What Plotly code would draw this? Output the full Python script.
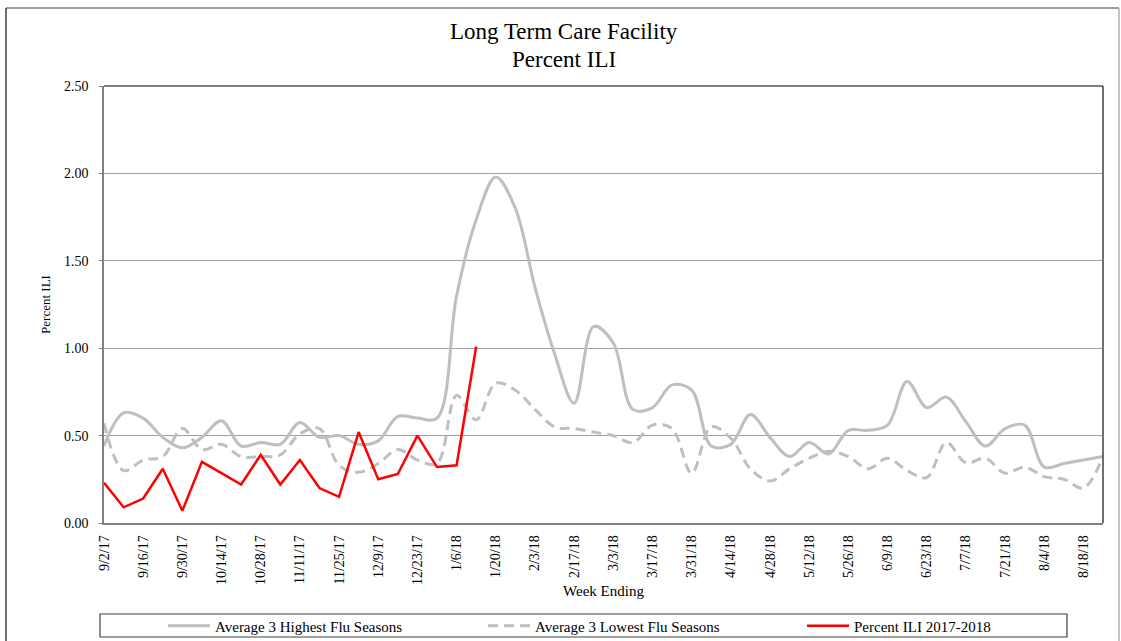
import plotly.graph_objects as go

week_ending = [
    "9/2/17", "9/9/17", "9/16/17", "9/23/17", "9/30/17", "10/7/17", "10/14/17", "10/21/17",
    "10/28/17", "11/4/17", "11/11/17", "11/18/17", "11/25/17", "12/2/17", "12/9/17", "12/16/17",
    "12/23/17", "12/30/17", "1/6/18", "1/13/18", "1/20/18", "1/27/18", "2/3/18", "2/10/18",
    "2/17/18", "2/24/18", "3/3/18", "3/10/18", "3/17/18", "3/24/18", "3/31/18", "4/7/18",
    "4/14/18", "4/21/18", "4/28/18", "5/5/18", "5/12/18", "5/19/18", "5/26/18", "6/2/18",
    "6/9/18", "6/16/18", "6/23/18", "6/30/18", "7/7/18", "7/14/18", "7/21/18", "7/28/18",
    "8/4/18", "8/11/18", "8/18/18", "8/25/18",
]

tick_labels = [
    "9/2/17", "9/16/17", "9/30/17", "10/14/17", "10/28/17", "11/11/17", "11/25/17", "12/9/17",
    "12/23/17", "1/6/18", "1/20/18", "2/3/18", "2/17/18", "3/3/18", "3/17/18", "3/31/18",
    "4/14/18", "4/28/18", "5/12/18", "5/26/18", "6/9/18", "6/23/18", "7/7/18", "7/21/18",
    "8/4/18", "8/18/18",
]

avg_highest = [
    0.44, 0.63, 0.60, 0.49, 0.43, 0.49, 0.585, 0.44, 0.46, 0.45, 0.575, 0.49, 0.50,
    0.45, 0.47, 0.61, 0.60, 0.60, 1.30, 1.735, 1.98, 1.80, 1.35, 0.97, 0.685, 1.125,
    1.03, 0.65, 0.66, 0.79, 0.76, 0.44, 0.45, 0.62, 0.49, 0.38, 0.46, 0.395, 0.53,
    0.53, 0.56, 0.81, 0.66, 0.72, 0.58, 0.44, 0.54, 0.56, 0.32, 0.34, 0.36, 0.38,
]

avg_lowest = [
    0.57, 0.30, 0.36, 0.38, 0.54, 0.42, 0.45, 0.38, 0.38, 0.39, 0.51, 0.54, 0.33,
    0.29, 0.34, 0.42, 0.36, 0.34, 0.73, 0.59, 0.80, 0.76, 0.65, 0.55, 0.54, 0.52,
    0.50, 0.46, 0.56, 0.54, 0.285, 0.55, 0.485, 0.31, 0.24, 0.31, 0.37, 0.41, 0.38,
    0.31, 0.37, 0.30, 0.26, 0.46, 0.345, 0.37, 0.285, 0.32, 0.265, 0.25, 0.20, 0.38,
]

pct_ili_2017_2018 = [
    0.23, 0.09, 0.14, 0.31, 0.07, 0.35, 0.285, 0.22, 0.39, 0.22, 0.36, 0.20, 0.15,
    0.52, 0.25, 0.28, 0.50, 0.32, 0.33, 1.01,
]

title_lines = ["Long Term Care Facility", "Percent ILI"]

W, H = 1121, 641
ML, MR, MT, MB = 104, 18, 86, 118
PW, PH = W - ML - MR, H - MT - MB

def px_x(px):
    return (px - ML) / PW

def px_y(py):
    return (H - MB - py) / PH

FONT = "Liberation Serif, Times New Roman, serif"

fig = go.Figure()
fig.add_trace(go.Scatter(
    x=week_ending, y=avg_highest, mode="lines", name="Average 3 Highest Flu Seasons",
    line=dict(color="#bfbfbf", width=3, shape="spline", smoothing=1.0),
    legend="legend",
))
fig.add_trace(go.Scatter(
    x=week_ending, y=avg_lowest, mode="lines", name="Average 3 Lowest Flu Seasons",
    line=dict(color="#bfbfbf", width=3, dash="10px,6px", shape="spline", smoothing=1.0),
    legend="legend2",
))
fig.add_trace(go.Scatter(
    x=week_ending[:len(pct_ili_2017_2018)], y=pct_ili_2017_2018, mode="lines",
    name="Percent ILI 2017-2018",
    line=dict(color="#ff0000", width=2.5),
    legend="legend3",
))

shapes = [
    # outer frame
    dict(type="line", xref="paper", yref="paper", x0=px_x(6), x1=px_x(6), y0=px_y(8), y1=px_y(660),
         line=dict(color="#404040", width=1.5)),
    dict(type="line", xref="paper", yref="paper", x0=px_x(6), x1=px_x(1119), y0=px_y(8), y1=px_y(8),
         line=dict(color="#404040", width=1.2)),
    dict(type="line", xref="paper", yref="paper", x0=px_x(1119), x1=px_x(1119), y0=px_y(8), y1=px_y(660),
         line=dict(color="#b0b0b0", width=1.5)),
    # plot-area top and right
    dict(type="line", xref="paper", yref="paper", x0=0, x1=1, y0=1, y1=1,
         line=dict(color="#000000", width=1.2)),
    dict(type="line", xref="paper", yref="paper", x0=1, x1=1, y0=0, y1=1,
         line=dict(color="#404040", width=1.5)),
    # legend box
    dict(type="rect", xref="paper", yref="paper", x0=px_x(100), x1=px_x(1067), y0=px_y(637), y1=px_y(614),
         line=dict(color="#404040", width=1.2), fillcolor="rgba(0,0,0,0)"),
]

annotations = [
    dict(text=title_lines[0], xref="paper", yref="paper", x=px_x(564), y=px_y(31),
         xanchor="center", yanchor="middle", showarrow=False, font=dict(size=23, family=FONT)),
    dict(text=title_lines[1], xref="paper", yref="paper", x=px_x(564), y=px_y(59),
         xanchor="center", yanchor="middle", showarrow=False, font=dict(size=23, family=FONT)),
]

def legend_at(px_left):
    return dict(orientation="h", xref="container", yref="container",
                x=px_left / W, xanchor="left", y=1 - 626 / H, yanchor="middle",
                itemwidth=42, font=dict(size=15, family=FONT),
                bgcolor="rgba(0,0,0,0)", borderwidth=0)

fig.update_layout(
    width=W, height=H,
    margin=dict(l=ML, r=MR, t=MT, b=MB, autoexpand=False),
    paper_bgcolor="white", plot_bgcolor="white",
    font=dict(family=FONT, color="#000000"),
    showlegend=True,
    legend=legend_at(163),
    legend2=legend_at(483),
    legend3=legend_at(802),
    shapes=shapes,
    annotations=annotations,
)

fig.update_xaxes(
    type="category", categoryorder="array", categoryarray=week_ending,
    range=[0, len(week_ending) - 1],
    tickmode="array", tickvals=tick_labels, ticktext=tick_labels,
    tickangle=-90, tickfont=dict(size=14, family=FONT),
    showgrid=False, showline=True, linecolor="#808080", linewidth=1.5,
    ticks="outside", ticklen=5, tickcolor="rgba(0,0,0,0)",
    title=dict(text="Week Ending", font=dict(size=15, family=FONT), standoff=1),
    zeroline=False, automargin=False,
)
fig.update_yaxes(
    range=[0, 2.5], tickmode="array", tickvals=[0, 0.5, 1.0, 1.5, 2.0, 2.5],
    ticktext=["0.00", "0.50", "1.00", "1.50", "2.00", "2.50"],
    tickfont=dict(size=14, family=FONT),
    showgrid=True, gridcolor="#a0a0a0", gridwidth=1,
    showline=True, linecolor="#808080", linewidth=1.5,
    ticks="outside", ticklen=3, tickcolor="#808080", ticklabelstandoff=8,
    title=dict(text="Percent ILI", font=dict(size=13, family=FONT), standoff=10),
    zeroline=False, automargin=False,
)

fig.write_html(
    "out.html",
    config={"displayModeBar": False},
    post_script="document.body.style.margin='0';document.body.style.overflow='hidden';",
)
